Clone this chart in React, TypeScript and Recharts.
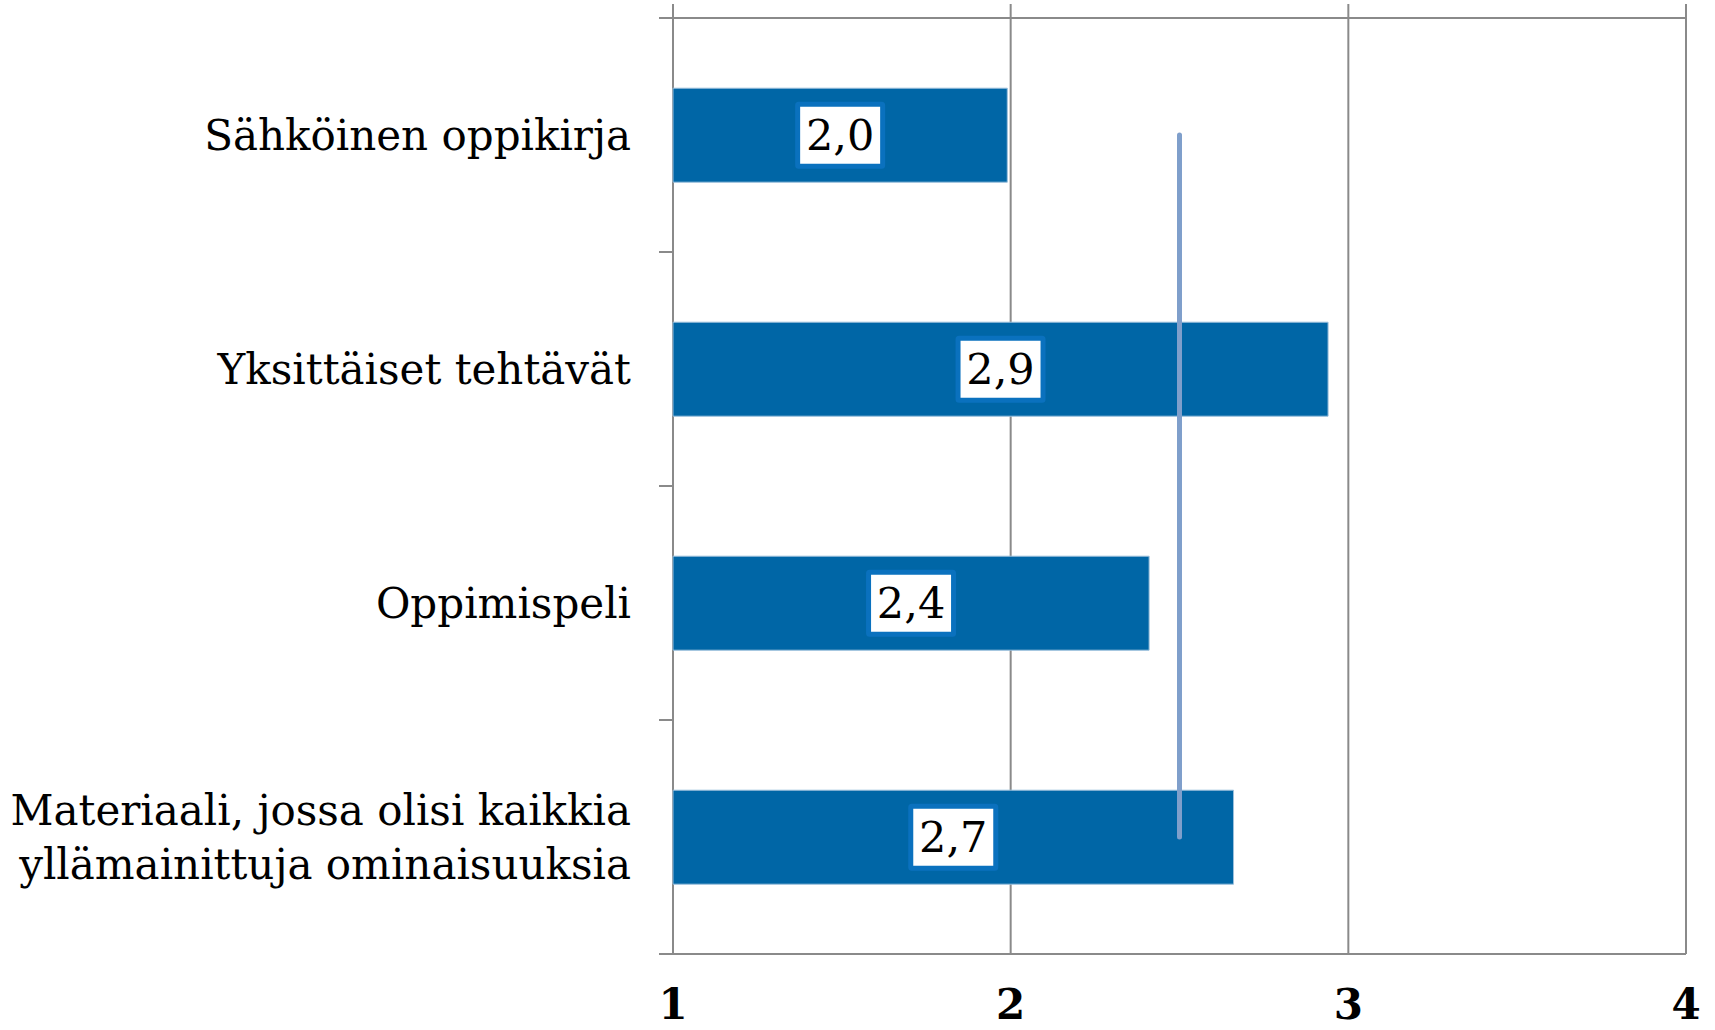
import {
  ComposedChart,
  Bar,
  Line,
  XAxis,
  YAxis,
  CartesianGrid,
  LabelList,
} from "recharts";

// categories top to bottom, "\n" marks a manual line break
const categories = [
  "Sähköinen oppikirja",
  "Yksittäiset tehtävät",
  "Oppimispeli",
  "Materiaali, jossa olisi kaikkia\nyllämainittuja ominaisuuksia",
];
const values = [1.99, 2.94, 2.41, 2.66];
const meanValue = 2.5;
const xTicks = [1, 2, 3, 4];

const data = categories.map((name, i) => ({
  name,
  value: values[i],
  mean: meanValue,
}));

const FONT = "'DejaVu Serif', serif";
const BAR_COLOR = "#0066A6";
const LABEL_BORDER = "#0A71BE";
const MEAN_COLOR = "#7F9FCB";
const GRID_COLOR = "#8A8A8A";

const fmt = (v: number) => v.toFixed(1).replace(".", ",");

const CategoryTick = (props: any) => {
  const { x, y, payload, index } = props;
  const lines = String(payload.value).split("\n");
  const fontSize = 42;
  const lineHeight = 54.6;
  const first = y + fontSize * 0.36 - ((lines.length - 1) * lineHeight) / 2;
  const half = payload.offset ?? 0;
  return (
    <g>
      {lines.map((line, i) => (
        <text
          key={i}
          x={x}
          y={first + i * lineHeight}
          textAnchor="end"
          fontFamily={FONT}
          fontSize={fontSize}
          fill="#000"
        >
          {line}
        </text>
      ))}
      <line
        x1={x + 28}
        x2={x + 42}
        y1={y - half}
        y2={y - half}
        stroke={GRID_COLOR}
        strokeWidth={2}
      />
      {index === categories.length - 1 && (
        <line
          x1={x + 28}
          x2={x + 42}
          y1={y + half}
          y2={y + half}
          stroke={GRID_COLOR}
          strokeWidth={2}
        />
      )}
    </g>
  );
};

const ValueLabel = (props: any) => {
  const { x, y, width, height, value } = props;
  const cx = x + width / 2;
  const cy = y + height / 2;
  return (
    <g>
      <rect
        x={cx - 42.5}
        y={cy - 31}
        width={85}
        height={62}
        fill="#fff"
        stroke={LABEL_BORDER}
        strokeWidth={5}
        rx={1}
      />
      <text
        x={cx}
        y={cy + 15}
        textAnchor="middle"
        fontFamily={FONT}
        fontSize={43}
        fill="#000"
      >
        {fmt(value)}
      </text>
    </g>
  );
};

export default function App() {
  return (
    <div
      style={{
        position: "absolute",
        left: 0,
        top: 0,
        width: 1715,
        height: 1030,
        background: "#fff",
      }}
    >
      <ComposedChart
        width={1715}
        height={1030}
        data={data}
        layout="vertical"
        margin={{ top: 4, right: 29, bottom: 0, left: 0 }}
        barCategoryGap="30%"
      >
        <CartesianGrid
          horizontal={false}
          stroke={GRID_COLOR}
          strokeWidth={2}
        />
        <XAxis
          xAxisId="top"
          orientation="top"
          type="number"
          domain={[1, 4]}
          ticks={xTicks}
          height={14}
          tickSize={14}
          tick={() => <g />}
          axisLine={{ stroke: GRID_COLOR, strokeWidth: 2 }}
          tickLine={{ stroke: GRID_COLOR, strokeWidth: 2 }}
        />
        <XAxis
          type="number"
          domain={[1, 4]}
          ticks={xTicks}
          height={76}
          tickLine={false}
          tickSize={0}
          tickMargin={35}
          axisLine={{ stroke: GRID_COLOR, strokeWidth: 2 }}
          tick={{
            fill: "#000",
            fontFamily: FONT,
            fontSize: 42,
            fontWeight: "bold",
          }}
        />
        <YAxis
          type="category"
          dataKey="name"
          width={673}
          interval={0}
          tickLine={false}
          axisLine={false}
          tickSize={0}
          tickMargin={42}
          tick={CategoryTick}
        />
        <Bar
          dataKey="value"
          fill={BAR_COLOR}
          stroke="#9cc0dc"
          strokeWidth={1}
          isAnimationActive={false}
        >
          <LabelList dataKey="value" content={ValueLabel} />
        </Bar>
        <Line
          xAxisId="top"
          dataKey="mean"
          stroke={MEAN_COLOR}
          strokeWidth={5}
          strokeLinecap="round"
          dot={false}
          activeDot={false}
          isAnimationActive={false}
        />
      </ComposedChart>
    </div>
  );
}
